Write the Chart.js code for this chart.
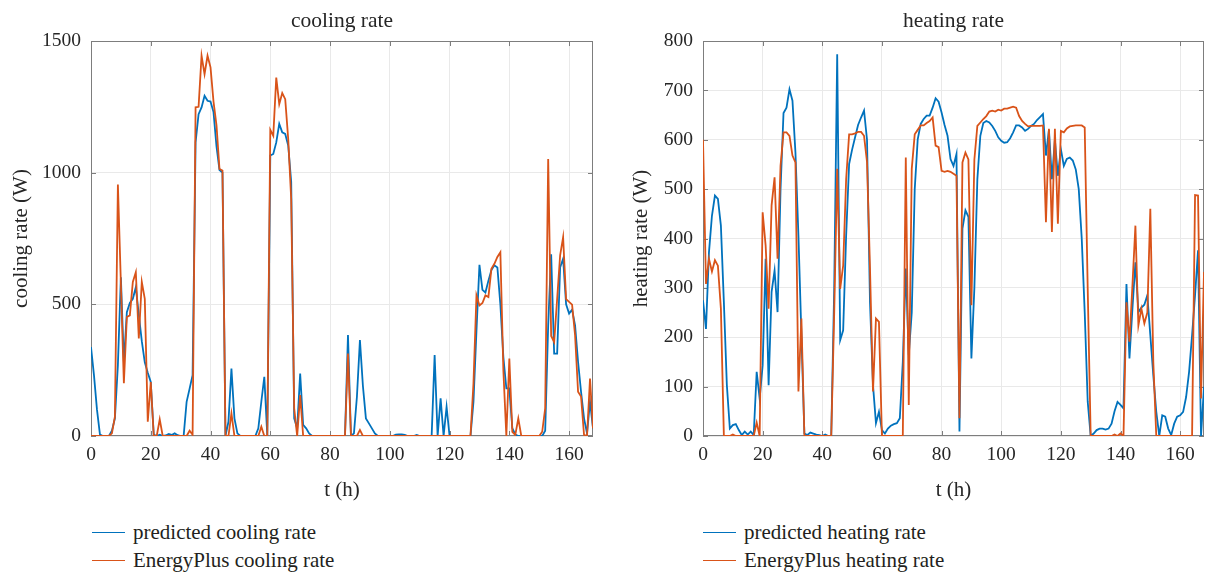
<!DOCTYPE html>
<html>
<head>
<meta charset="utf-8">
<script src="https://cdn.jsdelivr.net/npm/chart.js@4.4.1/dist/chart.umd.min.js"></script>
<style>
  html, body { margin: 0; padding: 0; background: #fff; }
  body { width: 1207px; height: 574px; position: relative; overflow: hidden; font-family: "Liberation Serif", "DejaVu Serif", serif; }
  canvas { position: absolute; top: 0; }
  .legend { position: absolute; font-size: 21px; color: #231f20; }
  .legend .item { height: 28px; display: flex; align-items: center; white-space: nowrap; }
  .legend .swatch { display: inline-block; width: 33px; height: 0; border-top: 1.5px solid; margin-right: 8px; }
</style>
</head>
<body>
<canvas id="cooling" width="603" height="505" style="left:0px"></canvas>
<canvas id="heating" width="587" height="505" style="left:620px"></canvas>

<div class="legend" style="left:92px; top:518px;">
  <div class="item"><span class="swatch" style="border-color:#0072BD"></span>predicted cooling rate</div>
  <div class="item"><span class="swatch" style="border-color:#D95319"></span>EnergyPlus cooling rate</div>
</div>
<div class="legend" style="left:703px; top:518px;">
  <div class="item"><span class="swatch" style="border-color:#0072BD"></span>predicted heating rate</div>
  <div class="item"><span class="swatch" style="border-color:#D95319"></span>EnergyPlus heating rate</div>
</div>

<script>
// Hourly values over one week (t = 0 ... 168 h), in W.
const coolingPredicted = [
  338, 230, 100, 5, 0, 0, 0, 20, 67, 270,
  603, 280, 470, 505, 521, 565, 460, 360, 280, 240,
  205, 5, 0, 5, 0, 2, 8, 4, 10, 3,
  0, 0, 130, 180, 231, 1115, 1222, 1248, 1292, 1273,
  1270, 1230, 1100, 1010, 1000, 0, 54, 256, 67, 10,
  0, 0, 0, 0, 0, 0, 29, 130, 225, 0,
  1065, 1071, 1115, 1185, 1153, 1147, 1103, 964, 67, 29,
  237, 42, 29, 10, 0, 0, 0, 0, 0, 0,
  0, 0, 0, 0, 0, 0, 383, 0, 10, 150,
  364, 190, 67, 48, 29, 10, 0, 0, 0, 0,
  0, 0, 5, 6, 6, 4, 0, 0, 0, 4,
  0, 0, 0, 0, 0, 307, 0, 143, 0, 111,
  0, 0, 0, 0, 0, 0, 0, 0, 130, 400,
  650, 555, 545, 590, 630, 648, 640, 500, 300, 181,
  181, 30, 5, 0, 0, 0, 0, 0, 0, 0,
  0, 0, 20, 420, 690, 313, 313, 640, 673, 500,
  465, 480, 420, 282, 168, 67, 10, 130, 29
];
const coolingEnergyPlus = [
  0, 0, 0, 0, 0, 0, 0, 10, 73, 955,
  580, 200, 452, 458, 585, 622, 370, 585, 521, 54,
  205, 0, 0, 63, 0, 0, 0, 0, 0, 0,
  0, 0, 0, 20, 5, 1248, 1250, 1444, 1374, 1444,
  1400, 1270, 1180, 1014, 1008, 0, 0, 86, 0, 0,
  0, 0, 0, 0, 0, 0, 0, 35, 0, 0,
  1163, 1140, 1361, 1260, 1302, 1279, 1128, 900, 105, 0,
  155, 0, 0, 0, 0, 0, 0, 0, 0, 0,
  0, 0, 0, 0, 0, 0, 313, 0, 0, 0,
  23, 0, 0, 0, 0, 0, 0, 0, 0, 0,
  0, 0, 0, 0, 0, 0, 0, 0, 0, 0,
  0, 0, 0, 0, 0, 0, 0, 0, 0, 0,
  0, 0, 0, 0, 0, 0, 0, 0, 200, 534,
  496, 505, 534, 528, 635, 654, 680, 698, 250, 0,
  294, 16, 4, 67, 0, 0, 0, 0, 0, 0,
  0, 16, 105, 1052, 380, 357, 520, 686, 755, 520,
  509, 499, 383, 168, 150, 4, 0, 218, 29
];
const heatingPredicted = [
  275, 217, 372, 446, 487, 480, 426, 271, 103, 15,
  22, 24, 12, 2, 9, 3, 9, 2, 130, 76,
  143, 359, 103, 292, 335, 251, 500, 654, 665, 702,
  679, 574, 406, 204, 5, 2, 7, 5, 3, 2,
  0, 3, 0, 0, 300, 773, 194, 214, 406, 551,
  580, 605, 630, 645, 659, 600, 271, 103, 26, 49,
  12, 5, 15, 21, 24, 26, 36, 150, 339, 164,
  250, 500, 601, 632, 642, 649, 649, 665, 684, 677,
  655, 630, 608, 561, 547, 571, 9, 420, 457, 444,
  157, 300, 520, 608, 634, 638, 635, 628, 618, 605,
  598, 594, 595, 603, 615, 629, 629, 625, 618, 622,
  628, 632, 640, 646, 652, 568, 620, 520, 600, 527,
  581, 547, 561, 564, 558, 540, 500, 400, 250, 70,
  0, 5, 12, 15, 15, 13, 15, 25, 50, 69,
  63, 56, 308, 157, 258, 352, 251, 260, 266, 285,
  204, 123, 49, 0, 42, 39, 15, 2, 25, 39,
  42, 49, 79, 130, 204, 285, 376, 0, 100
];
const heatingEnergyPlus = [
  600, 308, 359, 333, 356, 345, 258, 0, 0, 0,
  3, 0, 0, 0, 0, 0, 0, 0, 27, 0,
  453, 386, 258, 467, 524, 359, 547, 615, 615, 608,
  568, 554, 90, 238, 0, 0, 0, 0, 0, 0,
  0, 0, 0, 0, 250, 541, 298, 345, 520, 611,
  611, 613, 616, 616, 608, 555, 339, 90, 238, 231,
  0, 0, 0, 0, 0, 0, 0, 0, 564, 63,
  541, 611, 620, 629, 629, 634, 638, 645, 588, 585,
  537, 535, 537, 535, 531, 527, 36, 554, 574, 560,
  265, 560, 628, 635, 642, 648, 657, 659, 657, 661,
  659, 663, 663, 665, 667, 665, 648, 638, 632, 627,
  628, 628, 628, 628, 629, 433, 622, 413, 622, 430,
  618, 615, 623, 627, 628, 629, 629, 629, 625, 300,
  0, 0, 0, 0, 0, 0, 0, 0, 3, 0,
  5, 0, 271, 191, 305, 426, 224, 258, 228, 250,
  460, 150, 0, 0, 0, 0, 0, 0, 0, 0,
  0, 0, 0, 0, 0, 488, 487, 76, 332
];

// Axis ticks
const hourTicks = [0, 20, 40, 60, 80, 100, 120, 140, 160];
const coolingTicks = [0, 500, 1000, 1500];
const heatingTicks = [0, 100, 200, 300, 400, 500, 600, 700, 800];

const hours = coolingPredicted.map((_, i) => i);
const toPoints = arr => arr.map((v, i) => ({ x: hours[i], y: v }));

const FONT = '"Liberation Serif", "DejaVu Serif", serif';
const TEXT = '#262626';
const BLUE = '#0072BD';
const ORANGE = '#D95319';

Chart.defaults.font.family = FONT;

// Box around the plotting area with inward tick marks on all four sides
const framePlugin = {
  id: 'frame',
  beforeDatasetsDraw(chart) {
    const { ctx, chartArea: a, scales: { x, y } } = chart;
    ctx.save();
    ctx.strokeStyle = '#7d7d7d';
    ctx.lineWidth = 1;
    ctx.strokeRect(Math.round(a.left) + 0.5, Math.round(a.top) + 0.5,
                   Math.round(a.width) - 1, Math.round(a.height) - 1);
    const len = 5;
    ctx.beginPath();
    x.ticks.forEach(t => {
      const px = Math.round(x.getPixelForValue(t.value)) + 0.5;
      ctx.moveTo(px, a.bottom); ctx.lineTo(px, a.bottom - len);
      ctx.moveTo(px, a.top); ctx.lineTo(px, a.top + len);
    });
    y.ticks.forEach(t => {
      const py = Math.round(y.getPixelForValue(t.value)) + 0.5;
      ctx.moveTo(a.left, py); ctx.lineTo(a.left + len, py);
      ctx.moveTo(a.right, py); ctx.lineTo(a.right - len, py);
    });
    ctx.stroke();
    ctx.restore();
  }
};

function makeChart(id, cfg) {
  return new Chart(document.getElementById(id), {
    type: 'line',
    data: {
      datasets: [
        { label: cfg.labels[0], data: toPoints(cfg.predicted), borderColor: BLUE, order: 1 },
        { label: cfg.labels[1], data: toPoints(cfg.energyPlus), borderColor: ORANGE, order: 0 }
      ]
    },
    options: {
      responsive: false,
      animation: false,
      layout: { padding: { top: 0, left: 0, right: cfg.padRight, bottom: 0 } },
      elements: {
        point: { radius: 0 },
        line: { borderWidth: 1.8, tension: 0, fill: false }
      },
      plugins: {
        legend: { display: false },
        tooltip: { enabled: false },
        title: {
          display: true, fullSize: false, text: cfg.title, color: TEXT,
          font: { family: FONT, size: 21.5, weight: 'normal' },
          padding: { top: 8, bottom: 7.2 }
        }
      },
      scales: {
        x: {
          type: 'linear', min: 0, max: 168,
          afterFit: s => { s.height = 69; },
          afterBuildTicks: s => { s.ticks = hourTicks.map(v => ({ value: v })); },
          grid: { color: '#e9e9e9', drawTicks: false },
          border: { display: false },
          ticks: { padding: 7, color: TEXT, font: { family: FONT, size: 19.5 }, maxRotation: 0, autoSkip: false,
                   includeBounds: false, callback: v => String(v) },
          title: { display: true, text: 't (h)', color: TEXT, font: { family: FONT, size: 21 }, padding: { top: 0, bottom: 2.4 } }
        },
        y: {
          type: 'linear', min: 0, max: cfg.yMax,
          afterFit: s => { s.width = cfg.yWidth; },
          afterBuildTicks: s => { s.ticks = cfg.yTicks.map(v => ({ value: v })); },
          grid: { color: '#e9e9e9', drawTicks: false },
          border: { display: false },
          ticks: { padding: 10, color: TEXT, font: { family: FONT, size: 19.5 }, autoSkip: false,
                   includeBounds: false, callback: v => String(v) },
          title: { display: true, text: cfg.yTitle, color: TEXT, font: { family: FONT, size: 21 }, padding: { top: 8.4, bottom: 0 } }
        }
      }
    },
    plugins: [framePlugin]
  });
}

makeChart('cooling', {
  title: 'cooling rate', yTitle: 'cooling rate (W)',
  labels: ['predicted cooling rate', 'EnergyPlus cooling rate'],
  predicted: coolingPredicted, energyPlus: coolingEnergyPlus,
  yMax: 1500, yTicks: coolingTicks, yWidth: 91, padRight: 10
});
makeChart('heating', {
  title: 'heating rate', yTitle: 'heating rate (W)',
  labels: ['predicted heating rate', 'EnergyPlus heating rate'],
  predicted: heatingPredicted, energyPlus: heatingEnergyPlus,
  yMax: 800, yTicks: heatingTicks, yWidth: 83, padRight: 3
});
</script>
</body>
</html>
